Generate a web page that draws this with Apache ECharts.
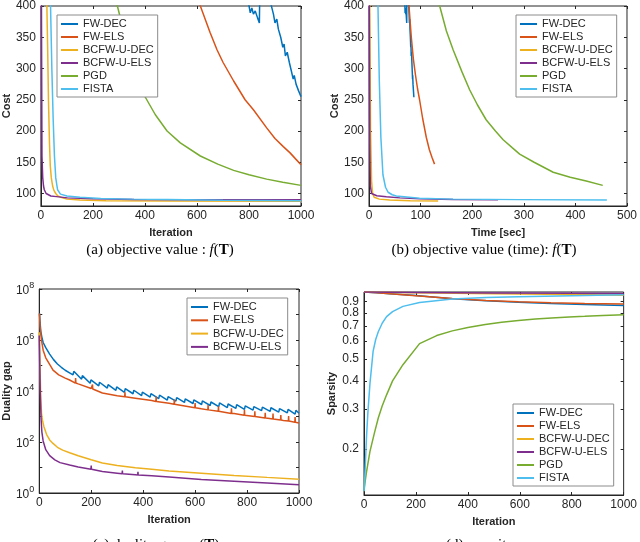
<!DOCTYPE html>
<html>
<head>
<meta charset="utf-8">
<script src="https://cdn.jsdelivr.net/npm/echarts@6/dist/echarts.min.js"></script>
<style>
  html, body { margin: 0; padding: 0; background: #fff; }
  #chart { width: 640px; height: 542px; }
</style>
</head>
<body>
<div id="chart"></div>
<script>
const names = ['FW-DEC', 'FW-ELS', 'BCFW-U-DEC', 'BCFW-U-ELS', 'PGD', 'FISTA'];
const colors = ['#0072BD', '#D95319', '#EDB120', '#7E2F8E', '#77AC30', '#4DBEEE'];

const iterTicks = [0, 200, 400, 600, 800, 1000];
const timeTicks = [0, 100, 200, 300, 400, 500];
const costTicks = [100, 150, 200, 250, 300, 350, 400];
const gapTicks = [1, 1e2, 1e4, 1e6, 1e8];
const gapMinorTicks = [1, 10, 1e2, 1e3, 1e4, 1e5, 1e6, 1e7, 1e8];
const sparsityTicks = [0.2, 0.3, 0.4, 0.5, 0.6, 0.7, 0.8, 0.9];

// (a) cost vs iteration: [iteration, cost]
const costIterFwDec = [[600, 700], [700, 560], [798, 405], [805, 389], [811, 397], [817, 387], [824, 392], [833, 381], [840, 373], [842, 440], [865, 432], [885, 402], [894, 387], [900, 373], [907, 379], [913, 363], [922, 350], [930, 334], [935, 339], [940, 320], [947, 326], [955, 310], [964, 294], [970, 283], [974, 289], [981, 275], [990, 265], [1000, 255]];
const costIterFwEls = [[500, 560], [560, 470], [613, 400], [650, 358], [677, 330], [700, 310], [741, 280], [785, 250], [817, 234], [868, 205], [900, 188], [932, 175], [958, 165], [980, 155], [1000, 146]];
const costIterBcfwDec = [[0, 3000], [15, 800], [22, 420], [26, 330], [29, 250], [33, 180], [36, 144], [40, 125], [45, 112], [50, 105], [57, 100], [65, 96], [83, 93], [100, 91], [150, 89.5], [250, 88.5], [500, 88], [1000, 87.5]];
const costIterBcfwEls = [[0, 2000], [2, 400], [4, 160], [7, 125], [10, 112], [13, 106], [20, 100], [38, 96], [60, 95], [102, 93], [200, 91.5], [358, 90.5], [600, 90.2], [1000, 90]];
const costIterPgd = [[200, 560], [294, 400], [330, 340], [358, 305], [396, 258], [440, 226], [485, 200], [536, 181], [613, 160], [680, 147], [741, 137], [800, 130], [868, 123], [930, 118], [1000, 113]];
const costIterFista = [[0, 5000], [30, 600], [37, 400], [42, 300], [47, 220], [52, 160], [57, 125], [64, 106], [75, 99], [100, 96], [150, 94], [230, 92], [350, 91], [485, 90.3], [700, 89.3], [1000, 88.3]];

// (b) cost vs time: [seconds, cost]
const costTimeFwDec = [[55, 620], [62, 520], [69.4, 405], [70.0, 389], [70.6, 397], [71.1, 387], [71.7, 392], [72.5, 381], [73.1, 373], [73.3, 440], [75.3, 432], [77.0, 402], [77.8, 387], [78.3, 373], [78.9, 379], [79.4, 363], [80.2, 350], [80.9, 334], [81.3, 339], [81.8, 320], [82.4, 326], [83.1, 310], [83.9, 294], [84.4, 283], [84.7, 289], [85.3, 275], [86.1, 265], [87.0, 254]];
const costTimeFwEls = [[63, 600], [72, 470], [77.5, 400], [82, 350], [86, 315], [90, 290], [94, 268], [98, 250], [104, 220], [111, 190], [117, 170], [122, 158], [127, 147]];
const costTimeBcfwDec = [[0, 3000], [1.5, 400], [3, 200], [5, 120], [7, 100], [10, 94], [20, 91], [40, 89.5], [80, 88.5], [134, 88]];
const costTimeBcfwEls = [[0, 2000], [0.5, 400], [1.5, 180], [2.6, 112], [5, 100], [7.8, 98.5], [15, 96.5], [33.6, 94.7], [60, 93], [98, 91.5], [163, 90.4], [250, 90]];
const costTimePgd = [[90, 620], [115, 490], [137, 400], [150, 360], [163, 330], [180, 295], [195, 266], [210, 242], [227, 218], [245, 200], [260, 186], [278, 173], [292, 163], [320, 150], [357, 134], [390, 126], [421, 120], [453, 113]];
const costTimeFista = [[0, 5000], [15, 700], [17.4, 400], [20, 280], [23, 190], [27, 130], [32, 110], [37, 102], [45, 98], [53, 96], [98, 92.5], [163, 91], [292, 90.2], [461, 89.5]];

// (c) duality gap vs iteration: [iteration, gap]
const gapFwDec = [[1, 1.1e7], [3, 5e6], [6, 2.2e6], [10, 1.3e6], [15, 8e5], [25, 5e5], [40, 2.8e5], [55, 1.7e5], [70, 1.15e5], [85, 8.5e4], [100, 6.5e4], [115, 5.3e4], [130, 4.3e4], [133, 5.9e4], [163, 2.9e4], [166, 4.0e4], [196, 2.0e4], [199, 2.75e4], [229, 1.6e4], [232, 2.2e4], [262, 1.29e4], [265, 1.78e4], [295, 1.05e4], [298, 1.45e4], [328, 8.9e3], [331, 1.23e4], [361, 7.8e3], [364, 1.07e4], [394, 6.6e3], [397, 9.1e3], [427, 5.75e3], [430, 7.9e3], [460, 5.0e3], [463, 6.9e3], [493, 4.4e3], [496, 6.0e3], [526, 4.0e3], [529, 5.5e3], [559, 3.55e3], [562, 4.9e3], [592, 3.24e3], [595, 4.47e3], [625, 2.95e3], [628, 4.07e3], [658, 2.7e3], [661, 3.7e3], [691, 2.45e3], [694, 3.4e3], [724, 2.24e3], [727, 3.1e3], [757, 2.1e3], [760, 2.9e3], [790, 1.9e3], [793, 2.6e3], [823, 1.78e3], [826, 2.45e3], [856, 1.7e3], [859, 2.35e3], [889, 1.58e3], [892, 2.2e3], [922, 1.48e3], [925, 2.04e3], [955, 1.38e3], [958, 1.9e3], [985, 1.25e3], [988, 1.75e3], [1000, 1.35e3]];
const gapFwEls = [[1, 1.1e7], [3, 3.5e6], [6, 1.6e6], [10, 8e5], [15, 4e5], [25, 2e5], [40, 1.1e5], [53, 6.6e4], [75, 4.3e4], [100, 3.2e4], [117, 2.7e4], [139, 2.05e4], [140, 3.2e4], [141, 2.05e4], [150, 1.9e4], [200, 1.25e4], [204, 1.2e4], [205, 1.8e4], [206, 1.2e4], [243, 8.3e3], [300, 6.5e3], [329, 5.9e3], [330, 9e3], [331, 5.9e3], [370, 5.2e3], [433, 4.2e3], [449, 3.9e3], [450, 6e3], [451, 3.9e3], [500, 3.3e3], [519, 3.0e3], [520, 4.6e3], [521, 3.0e3], [560, 2.6e3], [599, 2.2e3], [600, 3.4e3], [601, 2.2e3], [624, 2.0e3], [649, 1.82e3], [650, 2.8e3], [651, 1.82e3], [689, 1.6e3], [690, 2.5e3], [691, 1.6e3], [739, 1.32e3], [740, 2.1e3], [741, 1.32e3], [750, 1.3e3], [789, 1.12e3], [790, 1.8e3], [791, 1.12e3], [814, 1.05e3], [829, 1e3], [830, 1.6e3], [831, 1e3], [869, 870], [870, 1.4e3], [871, 870], [880, 850], [899, 800], [900, 1.3e3], [901, 800], [929, 725], [930, 1.15e3], [931, 725], [940, 700], [959, 660], [960, 1.05e3], [961, 660], [984, 600], [985, 950], [986, 600], [1000, 560]];
const gapBcfwDec = [[0, 2e6], [2, 3e5], [4, 3e4], [6, 5e3], [9, 1.2e3], [13, 650], [18, 400], [28, 200], [40, 120], [53, 88], [70, 62], [90, 48], [117, 38], [150, 29], [200, 20], [243, 15], [300, 12], [370, 9.8], [433, 8.5], [500, 7.3], [624, 6], [750, 4.9], [877, 4.1], [1000, 3.5]];
const gapBcfwEls = [[0, 1.5e6], [2, 1e5], [4, 8e3], [7, 800], [10, 250], [15, 110], [25, 50], [40, 29], [60, 20], [80, 15.5], [117, 12.5], [150, 10.5], [199, 8.6], [200, 12], [201, 8.6], [243, 7], [300, 6], [319, 5.7], [320, 7.6], [321, 5.7], [370, 5.2], [379, 5.1], [380, 6.8], [381, 5.1], [433, 4.7], [500, 4.2], [624, 3.4], [750, 2.9], [877, 2.45], [1000, 2.1]];

// (d) sparsity vs iteration: [iteration, sparsity]
const sparFwDec = [[0, 0.99], [50, 0.982], [100, 0.973], [200, 0.955], [340, 0.925], [470, 0.905], [595, 0.892], [720, 0.88], [850, 0.871], [1000, 0.862]];
const sparFwEls = [[0, 0.99], [50, 0.982], [100, 0.973], [200, 0.954], [340, 0.926], [470, 0.908], [595, 0.896], [720, 0.887], [850, 0.88], [1000, 0.875]];
const sparBcfwDec = [[0, 0.99], [200, 0.982], [500, 0.972], [800, 0.964], [1000, 0.958]];
const sparBcfwEls = [[0, 0.99], [200, 0.986], [500, 0.981], [800, 0.978], [1000, 0.975]];
const sparPgd = [[0, 0.13], [5, 0.145], [10, 0.159], [23, 0.195], [40, 0.235], [55, 0.274], [70, 0.31], [87, 0.347], [110, 0.4], [150, 0.472], [214, 0.585], [280, 0.635], [340, 0.666], [400, 0.69], [467, 0.71], [530, 0.728], [595, 0.741], [660, 0.752], [722, 0.76], [790, 0.768], [850, 0.773], [920, 0.78], [1000, 0.786]];
const sparFista = [[0, 0.13], [3, 0.15], [6, 0.18], [10, 0.23], [15, 0.29], [23, 0.39], [35, 0.54], [45, 0.61], [55, 0.66], [70, 0.72], [87, 0.77], [110, 0.81], [150, 0.855], [214, 0.89], [340, 0.922], [470, 0.936], [595, 0.944], [800, 0.953], [1000, 0.962]];

const AXIS = '#262626';
const FONT = 'Liberation Sans';

function xAx(grid, pos, min, max, ticks, name) {
  const main = pos === 'bottom';
  return {
    type: 'value', gridIndex: grid, position: pos, min: min, max: max,
    name: main ? name : '', nameLocation: 'middle', nameGap: 21,
    nameTextStyle: { fontFamily: FONT, fontSize: 11, fontWeight: 'bold', color: AXIS },
    axisLine: { show: main, onZero: false, lineStyle: { color: AXIS, width: 1 } },
    axisTick: { show: true, inside: true, length: 3, customValues: ticks, lineStyle: { color: AXIS } },
    axisLabel: {
      show: main, customValues: ticks, margin: 4, hideOverlap: false, interval: 0,
      fontFamily: FONT, fontSize: 12, color: AXIS,
      formatter: function (v) { return String(v); }
    },
    splitLine: { show: false }
  };
}

function yAx(grid, pos, type, min, max, ticks, tickMarks, name, fmt) {
  const main = pos === 'left';
  return {
    type: type, gridIndex: grid, position: pos, min: min, max: max,
    name: main ? name : '', nameLocation: 'middle', nameGap: 27,
    nameTextStyle: { fontFamily: FONT, fontSize: 11, fontWeight: 'bold', color: AXIS },
    axisLine: { show: main, onZero: false, lineStyle: { color: AXIS, width: 1 } },
    axisTick: { show: true, inside: true, length: 3, customValues: tickMarks, lineStyle: { color: AXIS } },
    axisLabel: {
      show: main, customValues: ticks, margin: 5, hideOverlap: false, interval: 0,
      fontFamily: FONT, fontSize: 12, color: AXIS,
      formatter: fmt || function (v) { return String(v); },
      rich: {
        b: { fontFamily: FONT, fontSize: 12, color: AXIS, verticalAlign: 'bottom', lineHeight: 16 },
        s: { fontFamily: FONT, fontSize: 9, color: AXIS, verticalAlign: 'top', lineHeight: 16 }
      }
    },
    splitLine: { show: false }
  };
}

const powFmt = function (v) { return '{b|10}{s|' + Math.round(Math.log10(v)) + '}'; };
const decFmt = function (v) { return String(Math.round(v * 10) / 10); };

const grids = [
  { left: 40, top: 5, width: 261, height: 201 },
  { left: 369, top: 5, width: 258, height: 201 },
  { left: 36, top: 289, width: 263, height: 204 },
  { left: 364, top: 292, width: 262, height: 203 }
].map(g => Object.assign({ show: true, borderColor: AXIS, borderWidth: 1, backgroundColor: '#fff' }, g));

const xAxes = [
  xAx(0, 'bottom', 0, 1000, iterTicks, 'Iteration'), xAx(0, 'top', 0, 1000, iterTicks),
  xAx(1, 'bottom', 0, 500, timeTicks, 'Time [sec]'), xAx(1, 'top', 0, 500, timeTicks),
  xAx(2, 'bottom', 0, 1000, iterTicks, 'Iteration'), xAx(2, 'top', 0, 1000, iterTicks),
  xAx(3, 'bottom', 0, 1000, iterTicks, 'Iteration'), xAx(3, 'top', 0, 1000, iterTicks)
];
// the sparsity labels sit closer than a label height, so the top one (0.9)
// goes on its own extra left axis to keep it from being dropped
const sparLow = sparsityTicks.slice(0, 7);
const sparTop = sparsityTicks.slice(7);
const yAxes = [
  yAx(0, 'left', 'value', 80, 400, costTicks, costTicks, 'Cost'), yAx(0, 'right', 'value', 80, 400, costTicks, costTicks),
  yAx(1, 'left', 'value', 80, 400, costTicks, costTicks, 'Cost'), yAx(1, 'right', 'value', 80, 400, costTicks, costTicks),
  yAx(2, 'left', 'log', 1, 1e8, gapTicks, gapMinorTicks, 'Duality gap', powFmt), yAx(2, 'right', 'log', 1, 1e8, gapTicks, gapMinorTicks),
  yAx(3, 'left', 'log', 0.125, 0.99, sparLow, sparsityTicks, 'Sparsity', decFmt), yAx(3, 'right', 'log', 0.125, 0.99, sparsityTicks, sparsityTicks),
  yAx(3, 'left', 'log', 0.125, 0.99, sparTop, sparTop, '', decFmt)
];

const panels = [
  [costIterFwDec, costIterFwEls, costIterBcfwDec, costIterBcfwEls, costIterPgd, costIterFista],
  [costTimeFwDec, costTimeFwEls, costTimeBcfwDec, costTimeBcfwEls, costTimePgd, costTimeFista],
  [gapFwDec, gapFwEls, gapBcfwDec, gapBcfwEls],
  [sparFwDec, sparFwEls, sparBcfwDec, sparBcfwEls, sparPgd, sparFista]
];

const series = [];
panels.forEach((list, p) => {
  list.forEach((data, i) => {
    series.push({
      name: names[i], type: 'line', data: data,
      xAxisIndex: p * 2, yAxisIndex: p * 2,
      showSymbol: false, symbol: 'none', clip: true,
      lineStyle: { color: colors[i], width: 1.5 },
      itemStyle: { color: colors[i] }
    });
  });
});

function legend(left, top, list, gap) {
  return {
    left: left, top: top, orient: 'vertical', data: list, selectedMode: false,
    icon: 'rect', itemWidth: 17, itemHeight: 2, itemGap: gap,
    padding: [3, 4, 2, 4], borderColor: '#8c8c8c', borderWidth: 1, backgroundColor: '#fff',
    textStyle: { fontFamily: FONT, fontSize: 11, color: AXIS, lineHeight: 12 }
  };
}

const capStyle = {
  fontFamily: 'Liberation Serif', fontSize: 15, fill: '#000', align: 'center',
  rich: {
    i: { fontFamily: 'Liberation Serif', fontStyle: 'italic', fontSize: 15 },
    b: { fontFamily: 'Liberation Serif', fontWeight: 'bold', fontSize: 15 }
  }
};
function caption(x, y, text) {
  return { type: 'text', x: x, y: y, style: Object.assign({ text: text }, capStyle) };
}

const chart = echarts.init(document.getElementById('chart'), null, { renderer: 'canvas' });
chart.setOption({
  animation: false,
  backgroundColor: '#fff',
  grid: grids,
  xAxis: xAxes,
  yAxis: yAxes,
  legend: [
    legend(57, 15, names, 1),
    legend(516, 15, names, 1),
    legend(187, 298, names.slice(0, 4), 1.3),
    legend(513, 404, names, 1)
  ],
  series: series,
  graphic: [
    caption(160, 243, '(a) objective value : {i|f}({b|T})'),
    caption(484, 243, '(b) objective value (time): {i|f}({b|T})'),
    caption(156, 538, '(c) duality gap : {i|g}({b|T})'),
    caption(480, 538, '(d) sparsity')
  ]
});
window.onresize = () => { chart.resize(); };
</script>
</body>
</html>
